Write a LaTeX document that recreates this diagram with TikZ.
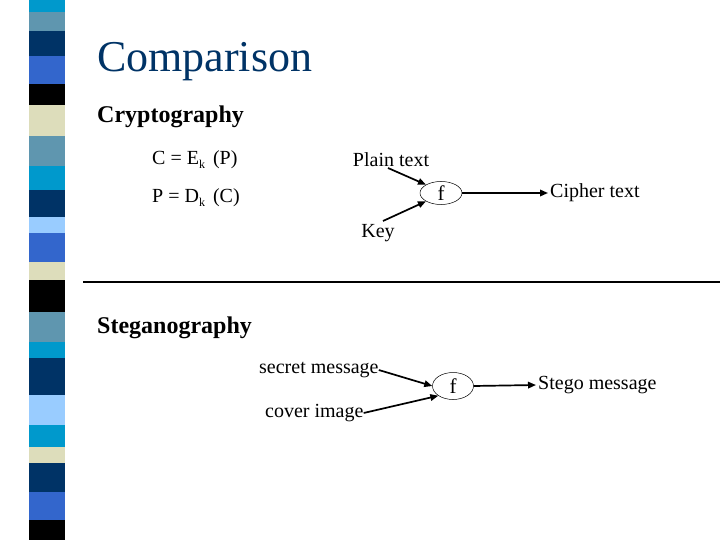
\documentclass[tikz,border=0pt]{standalone}
\usepackage{fontspec}
\setmainfont{Liberation Serif}
\usetikzlibrary{arrows.meta,shapes.geometric}
\definecolor{scyan}{RGB}{0,153,204}
\definecolor{ssteel}{RGB}{95,150,175}
\definecolor{snavy}{RGB}{0,51,102}
\definecolor{sroyal}{RGB}{51,102,204}
\definecolor{slight}{RGB}{153,204,255}
\definecolor{sbeige}{RGB}{221,221,187}
\tikzset{
  lbl/.style={inner sep=0pt, font=\fontsize{20}{22}\selectfont},
  eqn/.style={inner sep=0pt, anchor=west, font=\fontsize{20}{22}\selectfont},
  head/.style={inner sep=0pt, anchor=base west, font=\fontsize{24}{26}\selectfont\bfseries},
  fnode/.style={draw, ellipse, line width=0.5pt, inner sep=0pt, font=\fontsize{21}{22}\selectfont},
  arr/.style={line width=1.7pt, -{Triangle[length=8pt,width=6.5pt]}}
}
\newcommand{\sbk}{\raisebox{-0.4ex}{\fontsize{12}{12}\selectfont k}}
\begin{document}
\begin{tikzpicture}[x=1pt,y=-1pt]
\useasboundingbox (0,0) rectangle (720,540);
% left stripe
\foreach \ya/\yb/\c in {0/12/scyan,12/31/ssteel,31/56/snavy,56/84/sroyal,84/105/black,105/136/sbeige,136/166/ssteel,166/190/scyan,190/217/snavy,217/233/slight,233/262/sroyal,262/280/sbeige,280/312/black,312/342/ssteel,342/358/scyan,358/395/snavy,395/425/slight,425/447/scyan,447/463/sbeige,463/492/snavy,492/520/sroyal,520/540/black}
  \fill[\c] (29,\ya) rectangle (65,\yb);
% title
\node[inner sep=0pt, anchor=base west, text=snavy, font=\fontsize{44}{46}\selectfont] (title) at (97,72) {Comparison};
\node[head] (crypto) at (97,123) {Cryptography};
\node[head] (steg) at (97,333) {Steganography};
% formulas
\node[eqn] (eq1) at (152,160) {C = E\sbk{}\hspace{0.15em} (P)};
\node[eqn] (eq2) at (152,198) {P = D\sbk{}\hspace{0.15em} (C)};
% crypto diagram
\node[fnode, minimum width=42pt, minimum height=23pt] (f1) at (441,193) {f};
\node[lbl] (plain) at (391,160) {Plain text};
\node[lbl] (key) at (378,233) {Key};
\node[lbl, anchor=west] (cipher) at (550,193) {Cipher text};
\draw[arr] (388,168) -- (f1.north west);
\draw[arr] (383,221) -- (f1.south west);
\draw[arr] (f1.east) -- ([xshift=-2pt]cipher.west);
% separator
\coordinate (sl) at (83,282);
\coordinate (sr) at (720,282);
\draw[line width=1.4pt] (sl) -- (sr);
% steg diagram
\node[fnode, minimum width=41pt, minimum height=27pt] (f2) at (453,386) {f};
\node[lbl, anchor=west] (secret) at (259,370) {secret message};
\node[lbl, anchor=west] (cover) at (265,413) {cover image};
\node[lbl, anchor=west] (stego) at (538,385) {Stego message};
\draw[arr] (secret.east) -- (f2.west);
\draw[arr] (cover.east) -- (f2.south west);
\draw[arr] (f2.east) -- ([xshift=-2pt]stego.west);
\end{tikzpicture}
\end{document}
